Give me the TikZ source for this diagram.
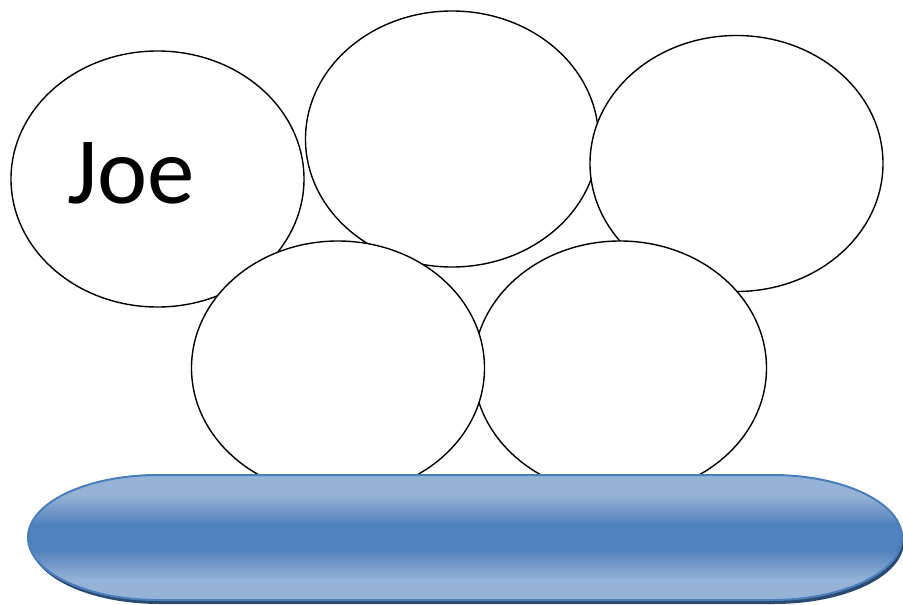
\documentclass[tikz,border=0pt]{standalone}
\usepackage{fontspec}
\setmainfont{Carlito}
\usetikzlibrary{shapes.geometric}

\definecolor{barlight}{HTML}{95B3D7}
\definecolor{barmid}{HTML}{7599C9}
\definecolor{bardark}{HTML}{4F81BD}
\definecolor{barline}{HTML}{4A7EBB}
\definecolor{barshadow}{HTML}{2B4A72}
\pgfdeclareverticalshading{barshade}{100bp}{color(0bp)=(barlight); color(25bp)=(barlight); color(33bp)=(barlight); color(39bp)=(barmid); color(45bp)=(bardark); color(55bp)=(bardark); color(61bp)=(barmid); color(67bp)=(barlight); color(75bp)=(barlight); color(100bp)=(barlight)}
\def\barpath{(28,537.5) arc[start angle=180,end angle=270,x radius=130,y radius=62.5] -- (772,475) arc[start angle=270,end angle=360,x radius=130,y radius=62.5] arc[start angle=0,end angle=90,x radius=130,y radius=62.5] -- (158,600) arc[start angle=90,end angle=180,x radius=130,y radius=62.5] -- cycle}

\begin{document}
\begin{tikzpicture}[x=1pt,y=-1pt, blob/.style={draw,ellipse,fill=white,line width=1.4pt,inner sep=0pt,minimum width=293pt,minimum height=256pt}]
\useasboundingbox (0,0) rectangle (903,605);
\node[blob] (joe) at (157.5,179) {};
\node[blob] (topmid) at (452,139) {};
\node[blob] (topright) at (736.5,163.5) {};
\node[blob,minimum height=254pt] (lowright) at (620,368) {};
\node[blob,minimum height=254pt] (lowleft) at (338,368) {};
\node[anchor=base west,inner sep=0pt,font=\fontsize{95}{104}\selectfont] (joelabel) at (67,203) {Joe};
\fill[barshadow] [shift={(2,4)}] \barpath;
\path[shading=barshade,draw=barline,line width=2pt] \barpath;
\end{tikzpicture}
\end{document}
